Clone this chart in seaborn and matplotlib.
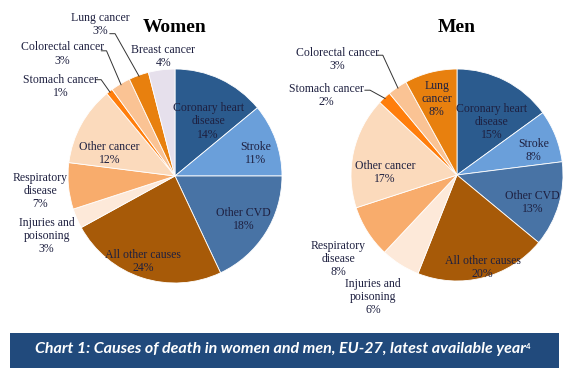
import numpy as np
import matplotlib.pyplot as plt
import seaborn as sns
from matplotlib.patches import Rectangle

# data (shares in %)
causes_women = ["Coronary heart disease", "Stroke", "Other CVD", "All other causes",
                "Injuries and poisoning", "Respiratory disease", "Other cancer",
                "Stomach cancer", "Colorectal cancer", "Lung cancer", "Breast cancer"]
share_women = [14, 11, 18, 24, 3, 7, 12, 1, 3, 3, 4]

causes_men = ["Coronary heart disease", "Stroke", "Other CVD", "All other causes",
              "Injuries and poisoning", "Respiratory disease", "Other cancer",
              "Stomach cancer", "Colorectal cancer", "Lung cancer"]
share_men = [15, 8, 13, 20, 6, 8, 17, 2, 3, 8]

colors = {
    "Coronary heart disease": "#2B5B8E",
    "Stroke": "#6A9FDA",
    "Other CVD": "#4873A5",
    "All other causes": "#A75A08",
    "Injuries and poisoning": "#FDE9D9",
    "Respiratory disease": "#F8AC6C",
    "Other cancer": "#FBDABC",
    "Stomach cancer": "#FF7E0C",
    "Colorectal cancer": "#FAC394",
    "Lung cancer": "#E8800E",
    "Breast cancer": "#E6E0EC",
}

# how each label is written (line breaks)
label_names = {
    "Coronary heart disease": "Coronary heart\ndisease",
    "Injuries and poisoning": "Injuries and\npoisoning",
    "Respiratory disease": "Respiratory\ndisease",
}

# label placement in pie-radius units, leader start point if any
women_layout = {
    "Coronary heart disease": (0.31, 0.51, None),
    "Stroke": (0.75, 0.21, None),
    "Other CVD": (0.64, -0.41, None),
    "All other causes": (-0.30, -0.80, None),
    "Injuries and poisoning": (-1.20, -0.56, None),
    "Respiratory disease": (-1.26, -0.14, None),
    "Other cancer": (-0.61, 0.21, None),
    "Stomach cancer": (-1.07, 0.84, (-0.74, 0.90)),
    "Colorectal cancer": (-1.05, 1.14, (-0.69, 1.17)),
    "Lung cancer": (-0.70, 1.42, (-0.61, 1.33)),
    "Breast cancer": (-0.11, 1.12, None),
}
men_layout = {
    "Coronary heart disease": (0.33, 0.50, None),
    "Stroke": (0.72, 0.23, None),
    "Other CVD": (0.71, -0.26, None),
    "All other causes": (0.24, -0.87, None),
    "Injuries and poisoning": (-0.79, -1.15, None),
    "Respiratory disease": (-1.12, -0.79, None),
    "Other cancer": (-0.68, 0.02, None),
    "Stomach cancer": (-1.23, 0.75, (-0.87, 0.80)),
    "Colorectal cancer": (-1.13, 1.09, (-0.75, 1.13)),
    "Lung cancer": (-0.19, 0.72, None),
}

sns.set_theme(style="white")
plt.rcParams["font.family"] = ["Liberation Serif", "DejaVu Serif"]

W, H = 569, 371
fig = plt.figure(figsize=(W / 100, H / 100), dpi=100)
fig.patch.set_facecolor("white")

text_color = "#1E2040"


def draw_pie(cx, cy, r, causes, shares, layout, title):
    ax = fig.add_axes([(cx - r) / W, (H - cy - r) / H, 2 * r / W, 2 * r / H])
    ax.pie(shares, colors=[colors[c] for c in causes], startangle=90,
           counterclock=False, radius=1,
           wedgeprops=dict(edgecolor="white", linewidth=0.6))
    ax.set_xlim(-1, 1)
    ax.set_ylim(-1, 1)
    ax.set_aspect("equal")
    ax.axis("off")
    cum = np.cumsum([0] + list(shares))
    for i, (c, v) in enumerate(zip(causes, shares)):
        lx, ly, lead = layout[c]
        name = label_names.get(c, c)
        if c == "Lung cancer" and lead is None and ly < 1:
            name = "Lung\ncancer"
        ax.text(lx, ly, f"{name}\n{v}%", ha="center", va="center",
                fontsize=8.5, color=text_color, linespacing=1.12)
        if lead is not None:
            mid = np.deg2rad(90 - (cum[i] + v / 2) * 3.6)
            ex, ey = 0.99 * np.cos(mid), 0.99 * np.sin(mid)
            sx, sy = lead
            ax.plot([sx, sx + 0.05, ex], [sy, sy, ey], color="#333333",
                    lw=0.7, clip_on=False)
    fig.text(cx / W, 1 - 27 / H, title, ha="center", va="center",
             fontsize=14, fontweight="bold", color="black")


draw_pie(175, 176, 107, causes_women, share_women, women_layout, "Women")
draw_pie(457, 175, 106, causes_men, share_men, men_layout, "Men")

# caption banner
fig.patches.append(Rectangle((10 / W, 1 - 368 / H), 549 / W, 35 / H,
                             transform=fig.transFigure, facecolor="#214A7C",
                             edgecolor="none"))
cap = fig.text(280 / W, 1 - 349 / H,
               "Chart 1: Causes of death in women and men, EU-27, latest available year",
               ha="center", va="center", fontsize=11.5, fontweight="bold",
               fontstyle="italic", color="white", family=["Lato", "DejaVu Sans"])
fig.canvas.draw()
bb = cap.get_window_extent()
fig.text(bb.x1 / W + 0.001, bb.y1 / H - 0.004, "4", ha="left", va="top",
         fontsize=5.5, fontweight="bold", color="white", family=["Lato", "DejaVu Sans"])

fig.savefig("out.png", dpi=100)
